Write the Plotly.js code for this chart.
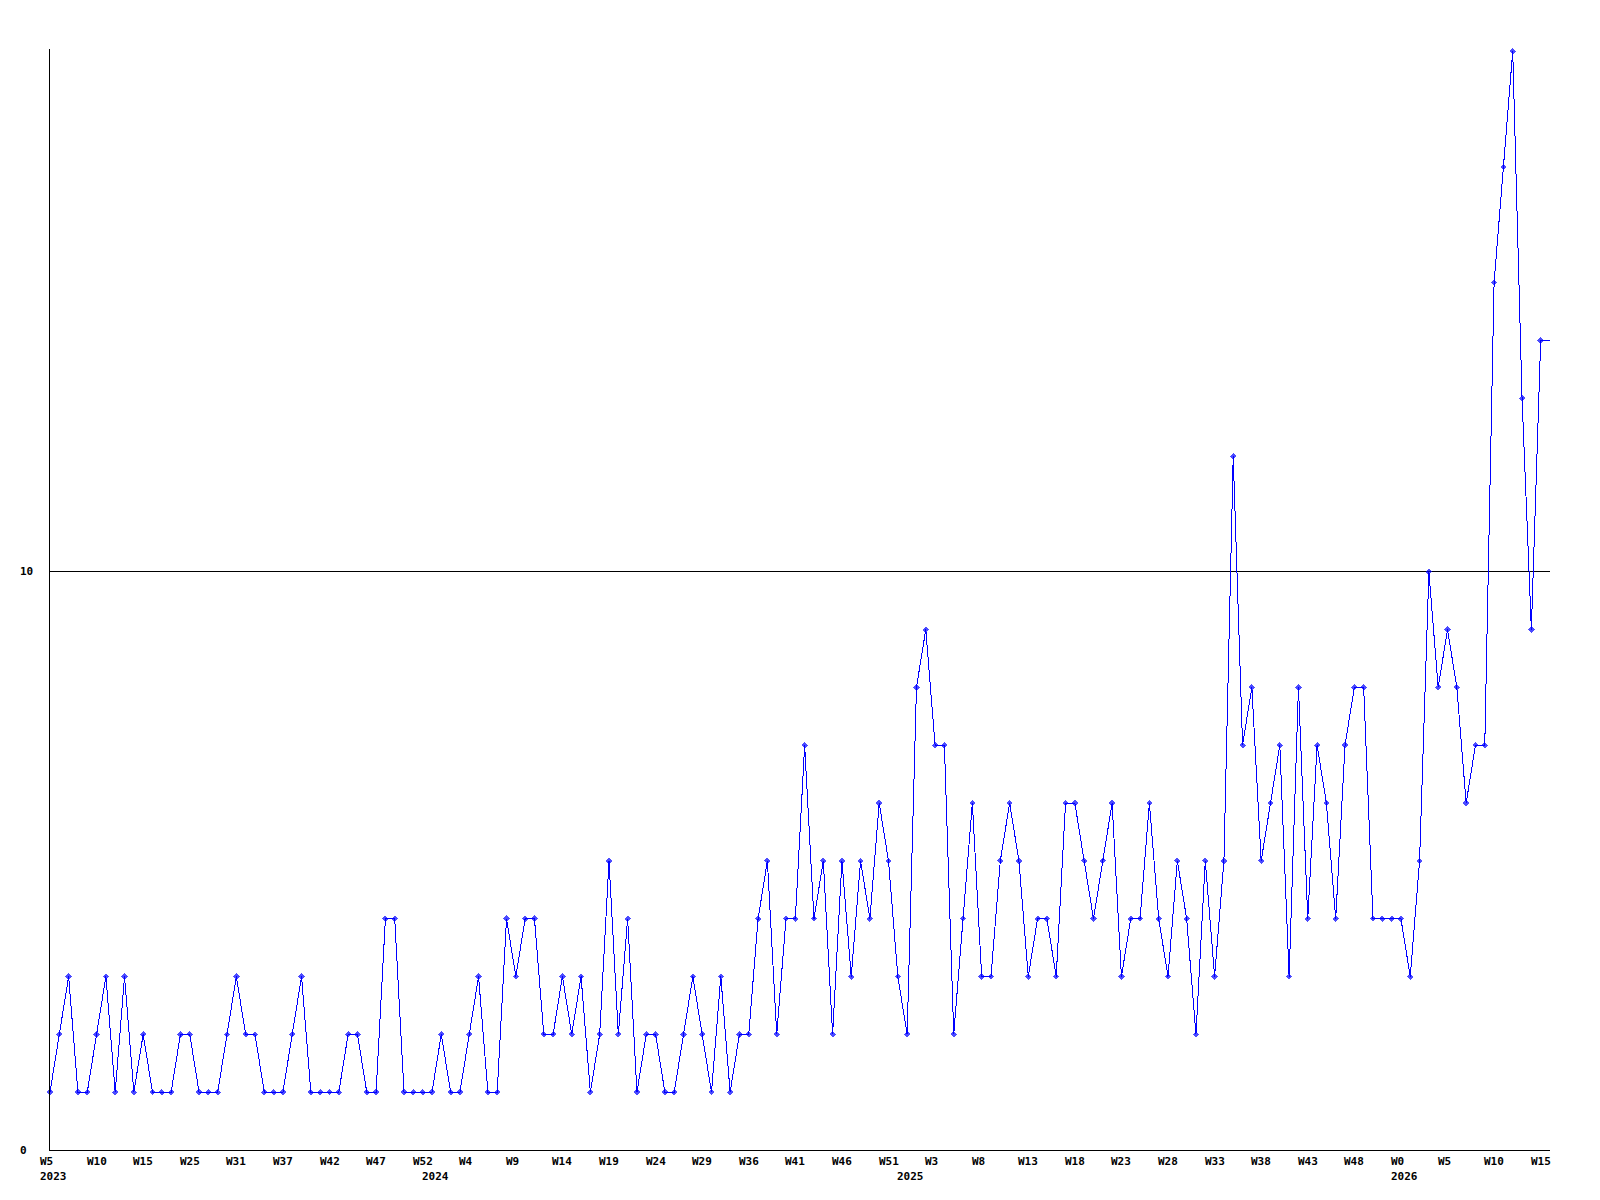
<!DOCTYPE html>
<html>
<head>
<meta charset="utf-8">
<script src="https://cdn.plot.ly/plotly-3.0.1.min.js"></script>
<style>
html,body{margin:0;padding:0;background:#fff;}
#chart{width:1600px;height:1200px;}
#chart path.js-line{shape-rendering:crispEdges;}
#chart path.point{shape-rendering:crispEdges;}
</style>
</head>
<body>
<div id="chart"></div>
<script>
// Weekly counts, one value per point (categorical x positions 0..161)
const values = [
  1,2,3,1,1,2,3,1,3,1,
  2,1,1,1,2,2,1,1,1,2,
  3,2,2,1,1,1,2,3,1,1,
  1,1,2,2,1,1,4,4,1,1,
  1,1,2,1,1,2,3,1,1,4,
  3,4,4,2,2,3,2,3,1,2,
  5,2,4,1,2,2,1,1,2,3,
  2,1,3,1,2,2,4,5,2,4,
  4,7,4,5,2,5,3,5,4,6,
  5,3,2,8,9,7,7,2,4,6,
  3,3,5,6,5,3,4,4,3,6,
  6,5,4,5,6,3,4,4,6,4,
  3,5,4,2,5,3,5,12,7,8,
  5,6,7,3,8,4,7,6,4,7,
  8,8,4,4,4,4,3,5,10,8,
  9,8,6,7,7,15,17,19,13,9,
  14,14
];
// Week tick labels, one every 5th point
const weekTickLabels = ['W5','W10','W15','W25','W31','W37','W42','W47','W52','W4','W9','W14','W19','W24','W29','W36','W41','W46','W51','W3','W8','W13','W18','W23','W28','W33','W38','W43','W48','W0','W5','W10','W15'];
const weekTickStep = 5;
// Year labels and the point index where each year starts
const yearLabels = ['2023','2024','2025','2026'];
const yearStartIndex = [0, 41, 92, 145];
// Y axis labels
const yTickValues = [0, 10];
const yTickLabels = ['0', '10'];

const xIdx = values.map((_, i) => i);
const markerSizes = values.map((_, i) => (i === values.length - 1 ? 0 : 5));

const FONT = {family: 'DejaVu Sans Mono, monospace', size: 11, color: '#000', weight: 'bold'};

const annotations = [];
weekTickLabels.forEach((t, k) => {
  annotations.push({
    x: k * weekTickStep, xref: 'x', y: 0, yref: 'paper',
    text: t, showarrow: false, xanchor: 'left', yanchor: 'top',
    xshift: -11, yshift: -4, font: FONT, borderpad: 0
  });
});
yearLabels.forEach((t, k) => {
  annotations.push({
    x: yearStartIndex[k], xref: 'x', y: 0, yref: 'paper',
    text: t, showarrow: false, xanchor: 'left', yanchor: 'top',
    xshift: -11, yshift: -19, font: FONT, borderpad: 0
  });
});
yTickValues.forEach((v, k) => {
  annotations.push({
    x: 0, xref: 'paper', y: v, yref: 'y',
    text: yTickLabels[k], showarrow: false, xanchor: 'left', yanchor: 'middle',
    xshift: -31, font: FONT, borderpad: 0
  });
});

const trace = {
  x: xIdx, y: values, type: 'scatter', mode: 'lines+markers',
  line: {color: 'rgb(0,0,255)', width: 1},
  marker: {color: 'rgb(0,0,255)', symbol: 'diamond', size: markerSizes, line: {width: 0}},
  cliponaxis: false,
  hoverinfo: 'skip'
};

const layout = {
  width: 1600, height: 1200,
  margin: {l: 50, r: 50, t: 49, b: 50, pad: 0},
  paper_bgcolor: '#fff', plot_bgcolor: '#fff',
  showlegend: false,
  xaxis: {
    range: [0, values.length - 1], showgrid: false, zeroline: false,
    showline: true, linecolor: '#000', linewidth: 1,
    showticklabels: false, ticks: ''
  },
  yaxis: {
    range: [0, 19.04], tickvals: yTickValues, showgrid: true, gridcolor: '#000', gridwidth: 1,
    zeroline: false, showline: true, linecolor: '#000', linewidth: 1,
    showticklabels: false, ticks: ''
  },
  annotations: annotations
};

Plotly.newPlot('chart', [trace], layout, {staticPlot: true, displayModeBar: false});
</script>
</body>
</html>
